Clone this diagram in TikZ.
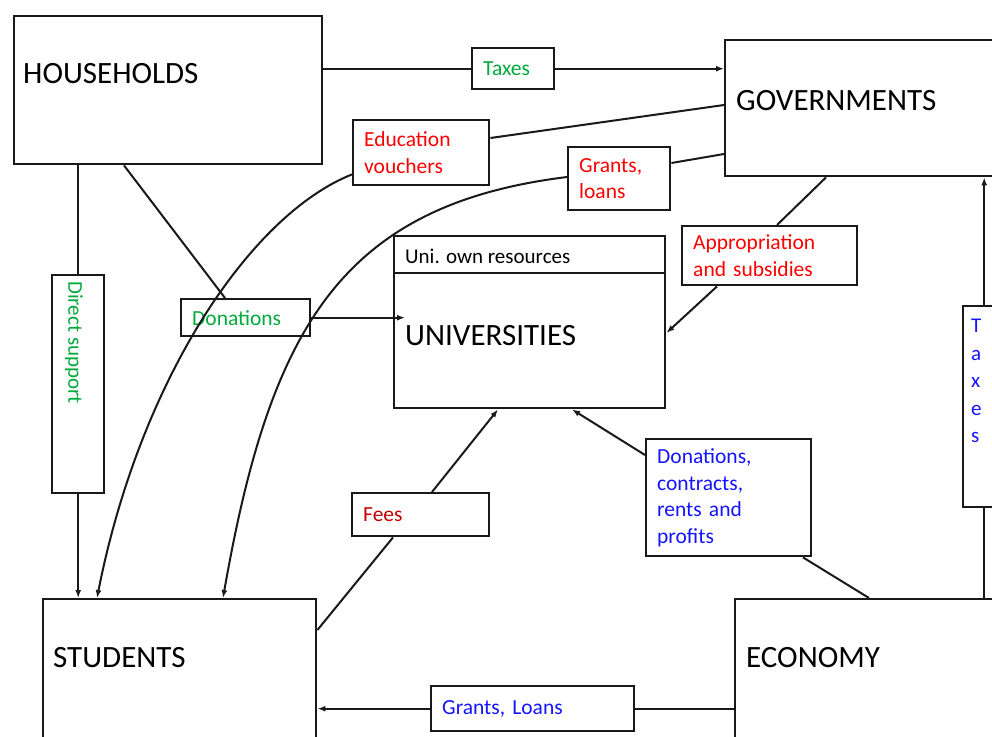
\documentclass[tikz,border=0pt]{standalone}
\usepackage{fontspec}
\setmainfont{Carlito}
\usepackage{tikz}
\usetikzlibrary{arrows.meta, calc, positioning}
\definecolor{flowgreen}{RGB}{0, 170, 60}
\definecolor{flowred}{RGB}{255, 0, 0}
\definecolor{feesred}{RGB}{192, 0, 0}
\definecolor{flowblue}{RGB}{20, 20, 255}
\definecolor{boxline}{RGB}{25, 25, 25}

\begin{document}
\begin{tikzpicture}[x=1pt, y=-1pt,
  bigbox/.style={draw=boxline, line width=2.4pt, anchor=north west, inner sep=0pt},
  bigtext/.style={anchor=west, inner sep=0pt, font=\fontsize{31}{36}\selectfont},
  flowbox/.style={draw=boxline, line width=2.4pt, anchor=north west, align=left,
    inner xsep=11pt, inner ysep=2pt, font=\fontsize{21.5}{26.5}\selectfont},
  arr/.style={-{Latex[length=8pt, width=6pt]}},
  conn/.style={draw=boxline, line width=2pt}]
 \useasboundingbox (0,0) rectangle (992,736);
 \clip (0,0) rectangle (992,736);
 \fill[white] (0,0) rectangle (992,736);

 % Main sectors
 \node[bigbox, minimum width=308pt, minimum height=148pt] (households) at (13,15) {};
 \node[bigtext] (householdstext) at (23,74) {HOUSEHOLDS};
 \node[bigbox, minimum width=290pt, minimum height=136pt] (governments) at (724,39) {};
 \node[bigtext] (governmentstext) at (736,101) {GOVERNMENTS};
 \node[bigbox, minimum width=271pt, minimum height=172pt] (universities) at (393,235) {};
 \node[bigtext] (univtext) at (405,336) {UNIVERSITIES};
 \node[anchor=west, inner sep=0pt, font=\fontsize{21}{26}\selectfont] (univown) at (405,256) {Uni. own resources};
 \draw[boxline, line width=2.4pt] ([yshift=-38pt]universities.north west) -- ([yshift=-38pt]universities.north east);
 \node[bigbox, minimum width=273pt, minimum height=170pt] (students) at (42,598) {};
 \node[bigtext] (studentstext) at (53,658) {STUDENTS};
 \node[bigbox, minimum width=290pt, minimum height=170pt] (economy) at (734,598) {};
 \node[bigtext] (economytext) at (746,658) {ECONOMY};

 % Flow labels
 \node[flowbox, text=flowgreen, text width=60pt, minimum height=41pt] (taxestop) at (471,47) {Taxes};
 \node[flowbox, text=flowred, text width=114pt, minimum height=65pt] (eduvouchers) at (352,119) {Education\\vouchers};
 \node[flowbox, text=flowred, text width=80pt, minimum height=63pt] (grantsloans) at (567,146) {Grants,\\loans};
 \node[flowbox, text=flowred, text width=153pt, minimum height=59pt] (appropriation) at (681,225) {Appropriation\\and subsidies};
 \node[flowbox, text=flowgreen, text width=107pt, minimum height=37pt] (donations) at (180,298) {Donations};
 \node[flowbox, text=feesred, text width=115pt, minimum height=43pt] (fees) at (351,492) {Fees};
 \node[flowbox, text=flowblue, text width=143pt, minimum height=117pt] (donationsecon) at (645,438) {Donations,\\contracts,\\rents and\\profits};
 \node[flowbox, text=flowblue, text width=181pt, minimum height=45pt] (grantsecon) at (430,685) {Grants,\,\,Loans};
 \node[bigbox, minimum width=52pt, minimum height=218pt] (directsupport) at (51,274) {};
 \node[rotate=-90, anchor=west, inner sep=0pt, text=flowgreen, font=\fontsize{21}{26}\selectfont] (directtext) at (74,281) {Direct support};
 \node[bigbox, minimum width=42pt, minimum height=201pt] (taxesecon) at (962,305) {};
 \node[anchor=north west, align=left, inner sep=0pt, text=flowblue, font=\fontsize{21}{27.5}\selectfont] (taxesecontext) at (971,319) {T\\a\\x\\e\\s};

 % Households flows
 \draw[conn] (taxestop.west -| households.east) -- (taxestop.west);
 \draw[conn, arr] (taxestop.east) -- (taxestop.east -| governments.west);
 \draw[conn] (directsupport.north |- households.south) -- (directsupport.north);
 \draw[conn, arr] (directsupport.south) -- (directsupport.south |- students.north);
 \draw[conn] ($(households.south west)+(111,0)$) -- ($(donations.north west)+(45,0)$);
 \draw[conn, arr] (donations.east) -- (donations.east -| univtext.west);

 % Government flows
 \draw[conn] ($(eduvouchers.north east)+(0,19)$) -- ($(governments.north west)+(0,66)$);
 \draw[conn, arr] ($(eduvouchers.south west)+(0,-12)$) .. controls (250,215) and (140,380) .. ($(students.north west)+(55,0)$);
 \draw[conn] ($(grantsloans.north east)+(0,17)$) -- ($(governments.north west)+(0,115)$);
 \draw[conn, arr] ($(grantsloans.north west)+(0,31)$) .. controls (340,205) and (270,330) .. ($(students.north west)+(181,0)$);
 \draw[conn] ($(governments.south west)+(102,0)$) -- ($(appropriation.north west)+(96,0)$);
 \draw[conn, arr] ($(appropriation.south west)+(36,0)$) -- ($(universities.north east)+(0,98)$);

 % Student flows
 \draw[conn] ($(students.north east)+(0,32)$) -- ($(fees.south west)+(42,0)$);
 \draw[conn, arr] ($(fees.north west)+(81,0)$) -- ($(universities.south west)+(105,0)$);

 % Economy flows
 \draw[conn] ($(economy.north west)+(135,0)$) -- ($(donationsecon.south west)+(158,0)$);
 \draw[conn, arr] ($(donationsecon.north west)+(0,17)$) -- ($(universities.south west)+(179,0)$);
 \draw[conn] (grantsecon.east -| economy.west) -- (grantsecon.east);
 \draw[conn, arr] (grantsecon.west) -- (grantsecon.west -| students.east);
 \draw[conn] (taxesecon.south |- economy.north) -- (taxesecon.south);
 \draw[conn, arr] (taxesecon.north) -- (taxesecon.north |- governments.south);
\end{tikzpicture}
\end{document}
